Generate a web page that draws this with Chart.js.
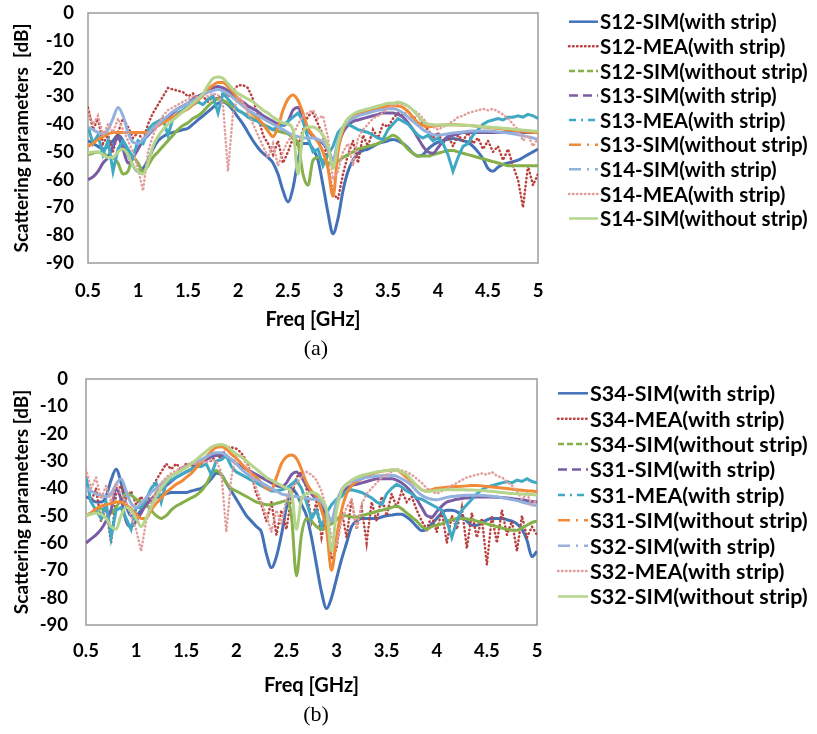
<!DOCTYPE html>
<html>
<head>
<meta charset="utf-8">
<script src="https://cdn.jsdelivr.net/npm/chart.js@4.4.1/dist/chart.umd.min.js"></script>
<style>
  html, body { margin: 0; padding: 0; background: #fff; }
  #page { position: relative; width: 817px; height: 734px; overflow: hidden; }
  .panel { position: absolute; left: 0; width: 817px; }
  .caption { position: absolute; width: 60px; text-align: center; font-family: "Liberation Serif", "DejaVu Serif", serif; font-size: 22px; line-height: 25px; color: #000; }
</style>
</head>
<body>
<div id="page">
  <div class="panel" style="top:0;height:340px"><canvas id="chartA"></canvas></div>
  <div class="caption" style="left:286px;top:335px">(a)</div>
  <div class="panel" style="top:366px;height:336px"><canvas id="chartB"></canvas></div>
  <div class="caption" style="left:286px;top:701px">(b)</div>
</div>
<script>
// frequency grid, GHz
const freq = [
  0.5, 0.55, 0.6, 0.65, 0.7, 0.75, 0.8, 0.85, 0.9, 0.95,
  1.0, 1.05, 1.1, 1.15, 1.2, 1.25, 1.3, 1.35, 1.4, 1.45,
  1.5, 1.55, 1.6, 1.65, 1.7, 1.75, 1.8, 1.85, 1.9, 1.95,
  2.0, 2.05, 2.1, 2.15, 2.2, 2.25, 2.3, 2.35, 2.4, 2.45,
  2.5, 2.55, 2.6, 2.65, 2.7, 2.75, 2.8, 2.85, 2.9, 2.95,
  3.0, 3.05, 3.1, 3.15, 3.2, 3.25, 3.3, 3.35, 3.4, 3.45,
  3.5, 3.55, 3.6, 3.65, 3.7, 3.75, 3.8, 3.85, 3.9, 3.95,
  4.0, 4.05, 4.1, 4.15, 4.2, 4.25, 4.3, 4.35, 4.4, 4.45,
  4.5, 4.55, 4.6, 4.65, 4.7, 4.75, 4.8, 4.85, 4.9, 4.95,
  5.0
];

const namesA = [
  'S12-SIM(with strip)', 'S12-MEA(with strip)', 'S12-SIM(without strip)',
  'S13-SIM(with strip)', 'S13-MEA(with strip)', 'S13-SIM(without strip)',
  'S14-SIM(with strip)', 'S14-MEA(with strip)', 'S14-SIM(without strip)'
];
const namesB = [
  'S34-SIM(with strip)', 'S34-MEA(with strip)', 'S34-SIM(without strip)',
  'S31-SIM(with strip)', 'S31-MEA(with strip)', 'S31-SIM(without strip)',
  'S32-SIM(with strip)', 'S32-MEA(with strip)', 'S32-SIM(without strip)'
];

// ---- panel (a), dB ----
const s12Sim = [
  -46, -47, -48, -49, -48, -46, -44, -46, -51, -55,
  -57, -56, -53, -49, -46, -44.5, -43.5, -43, -42.5, -42,
  -41.5, -40, -38.5, -37, -35.5, -34, -32.5, -32, -33, -35,
  -37.5, -40, -43, -46, -48.5, -50.5, -52, -54, -58, -64,
  -68, -63, -53, -47, -47, -49, -53, -62, -72, -79.5,
  -74, -64, -57, -53, -50.5, -49.5, -49, -48, -47, -46.5,
  -46, -45.5, -46, -47, -48.5, -50.5, -51.5, -51, -49, -47.5,
  -46.5, -46, -45.5, -45.2, -45.5, -46, -46.5, -48, -50, -52.5,
  -56, -57, -55.5, -54.5, -54, -53.5, -53, -52, -51, -50,
  -49
];
const s12Mea = [
  -34, -42, -38, -47, -44, -50, -43, -38, -41, -45,
  -43, -46, -40, -36, -33, -30, -27, -27.5, -28, -28.5,
  -30, -29, -31, -30, -32, -30, -31, -29, -30, -28,
  -26, -26, -27, -31, -37, -44, -47, -51, -46, -54,
  -50, -45, -48, -42, -37, -36, -40, -44, -55, -65,
  -67, -58, -51, -46, -54, -44, -48, -42, -45, -40,
  -41, -38, -36, -37, -35, -38, -37, -40, -42, -45,
  -43, -47, -44, -48, -44, -46, -43, -47, -45, -49,
  -46, -50, -48, -53, -49, -55, -60, -70, -55, -62,
  -58
];
const s12SimNo = [
  -51, -50.5, -50, -50.5, -51.5, -52, -54, -58, -57, -52,
  -54, -57, -55, -52, -50, -48, -46, -44, -42, -40.5,
  -39.5, -38, -37, -35.5, -33.5, -32, -31, -31.5, -32.5, -34,
  -35, -36, -37, -38, -39, -40, -41, -42, -42.5, -43,
  -43.5, -45, -47, -58, -62, -53, -52, -53, -54, -54.5,
  -53.5, -52, -51, -50, -49, -48.5, -48, -47.5, -47, -46,
  -45, -44, -45, -47, -49, -50.5, -51.5, -51.5, -51.5, -51,
  -50.5, -50, -49.5, -49.5, -50, -50.5, -51, -51.5, -52, -52.5,
  -53, -53.5, -54, -54.5, -55, -55, -55, -55, -55, -55,
  -55
];
const s13Sim = [
  -60, -59, -57, -54, -52, -48, -45, -49, -54, -52,
  -49, -46, -44, -42, -40.5, -39, -37.5, -36, -34.5, -33.5,
  -32.5, -31, -30, -29, -28, -27, -26.5, -27, -28, -29.5,
  -31, -32, -33.5, -34.5, -35.5, -37, -38, -39, -40, -40.5,
  -39, -35, -34, -38, -42, -44.5, -46, -47, -49, -53,
  -48, -43, -40.5, -39, -38.5, -38, -37.5, -37, -36.5, -36,
  -36, -36, -36.5, -37.5, -39.5, -42, -45, -48, -50, -50.5,
  -48.5, -46, -44.5, -44, -43.5, -43, -43, -43, -43, -43,
  -43, -43, -43, -43, -42.5, -42.5, -42.5, -43, -43, -43,
  -43
];
const s13Mea = [
  -41, -47, -44, -51, -46, -57, -49, -46, -49, -52,
  -46, -47, -42, -40, -39, -38, -44, -38, -36, -35,
  -33.5, -33, -32, -33, -31, -30, -36, -29, -31, -33,
  -35, -36, -37.5, -38.5, -39, -40.5, -41, -42, -41, -40.5,
  -39, -37.5, -36, -39, -45, -50, -49, -55, -51, -48,
  -43, -41, -40, -41, -42, -42.5, -43, -44, -45, -45.5,
  -42, -40, -38, -39, -40, -42, -44, -45, -44, -46,
  -45, -47, -51, -57, -52, -48, -47, -44, -42, -40,
  -39, -38.5, -38, -38.5, -37.5, -37.5, -37, -37.5, -36.5, -37,
  -38
];
const s13SimNo = [
  -48, -47, -45.5, -44.5, -43.5, -43, -43, -43, -43, -43,
  -43, -43, -43, -41.5, -40.5, -39.5, -38.5, -37.5, -36.5, -35.5,
  -34.5, -33, -31.5, -29.5, -27.5, -26, -25, -25, -26.5, -28.5,
  -31, -33, -35, -36.5, -38, -40, -42.5, -44.5, -41, -35,
  -31, -29.5, -31.5, -36, -41.5, -44, -46.5, -50, -56, -66,
  -50, -42, -39, -37.5, -36.5, -36, -35.5, -35, -34.5, -34,
  -33.5, -33.5, -33.5, -34, -35.5, -37.5, -39.5, -40.5, -41, -40.8,
  -40.5, -40.3, -40.2, -40.2, -40.3, -40.4, -40.5, -40.6, -40.8, -41,
  -41.2, -41.4, -41.6, -41.8, -42, -42.2, -42.4, -42.6, -42.8, -43,
  -43
];
const s14Sim = [
  -41, -42, -43, -43.5, -42, -38, -34, -37, -43, -46.5,
  -47, -45.5, -43.5, -41.5, -40, -38.5, -37, -35.5, -34.5, -33.5,
  -32.5, -31.5, -30.5, -29.5, -28.5, -28, -27.5, -28, -29, -30.5,
  -32, -33.5, -35, -36, -37, -38, -39, -40, -41, -42,
  -43, -44, -44.5, -45, -45, -45, -45.5, -46.5, -49, -53,
  -46, -41, -39, -38, -37, -36.5, -36, -35.5, -35, -34.8,
  -34.5, -34.5, -35, -36, -37.5, -39, -40.5, -42, -43, -43.8,
  -44, -43.8, -43.5, -43.2, -43, -42.8, -42.6, -42.5, -42.5, -42.5,
  -42.5, -42.6, -42.8, -43, -43.2, -43.5, -43.8, -44.2, -44.6, -45,
  -45.5
];
const s14Mea = [
  -35, -40, -37, -44, -40, -43, -38, -42, -46, -50,
  -56, -64, -50, -44, -40, -37, -35, -34, -33, -32,
  -31, -30, -30.5, -29.5, -30, -29, -29.5, -33, -57, -36,
  -30, -32, -36, -40, -44, -48, -52, -47, -55, -50,
  -46, -44, -40, -37, -36, -35, -38, -37, -45, -60,
  -57, -50, -47, -55, -45, -42, -40, -38, -37, -36,
  -34, -33.5, -32.5, -33, -33.5, -35, -36, -38, -40, -41,
  -42, -41, -40, -39, -37.5, -37, -36, -35.5, -35, -34.5,
  -35, -34.5, -35.5, -36.5, -38, -40, -42, -46, -44, -48,
  -45
];
const s14SimNo = [
  -50.5, -50, -50, -51, -52, -52, -50, -49, -51, -55,
  -57, -58, -54, -48, -44.5, -42, -40, -38.5, -37, -35.5,
  -34, -32.5, -31, -29, -26, -23.5, -23, -23.5, -25.5, -27.5,
  -29, -30, -31, -32, -33.5, -35, -36, -37.5, -38.5, -39.5,
  -40, -42, -58, -43, -41, -41, -42, -44, -48, -56,
  -47, -41, -38, -36.5, -35.5, -35, -34.5, -34, -33.5, -33,
  -32.5, -32.5, -32, -32.5, -33.5, -35, -37, -39, -40, -40.2,
  -40.3, -40.3, -40.3, -40.3, -40.3, -40.4, -40.5, -40.6, -40.8, -41,
  -41, -41.2, -41.3, -41.5, -41.6, -41.8, -42, -42.2, -42.3, -42.5,
  -42.6
];

// ---- panel (b), dB ----
const s34Sim = [
  -43, -44, -45, -45, -43, -37, -33, -38, -46, -50,
  -50, -48, -46, -44.5, -43.5, -42.5, -42, -41.5, -41.5, -41.5,
  -41.5, -41, -40.5, -40, -38.5, -36.5, -34.5, -35, -38, -41,
  -44, -47, -50, -52, -54, -56, -64, -69, -65, -57,
  -47, -40, -42, -46, -50, -58, -68, -78, -84, -80,
  -73, -66, -60, -54, -52, -51, -51, -51, -51, -50.5,
  -50, -49.8, -49.5, -49.5, -50.5, -52, -54, -55.5, -55, -53,
  -51, -49, -48, -48, -48.5, -50, -52, -53.5, -53.5, -52.5,
  -51.5, -51, -51, -51, -51.5, -52, -53, -55, -59, -65,
  -63
];
const s34Mea = [
  -36, -45, -40, -52, -47, -60, -42, -39, -44, -41,
  -46, -43, -47, -40, -37, -34, -31, -33, -31, -33,
  -31, -32, -30, -31, -29, -30, -28, -29, -25, -25,
  -25.5, -27, -30, -35, -42, -46, -52, -45, -57, -48,
  -55, -43, -36, -34, -40, -52, -45, -58, -50, -66,
  -62, -48, -58, -44, -55, -47, -60, -45, -52, -43,
  -50, -42, -47, -41, -45, -43, -48, -52, -55, -50,
  -56, -48, -60, -50, -55, -47, -62, -49, -58, -51,
  -68, -50, -60, -48, -57, -52, -63, -50, -58, -54,
  -57
];
const s34SimNo = [
  -50, -49, -48, -47.5, -48, -49, -47, -44, -42, -42.5,
  -44, -45, -46, -48, -50, -51, -50, -48, -46.5, -45.5,
  -44.5, -43.5, -42.5, -41, -38.5, -35, -33.5, -35, -38, -40,
  -41, -42, -43, -44, -45, -45.5, -46, -46, -45.5, -45,
  -44.5, -50, -72, -57, -51, -52, -54, -55, -54, -53,
  -51.5, -50, -50, -50.5, -50.5, -50, -49.5, -49, -48.5, -48,
  -47.5, -47, -46.5, -47.5, -49, -50.5, -52, -54, -55, -54,
  -53.5, -53, -52, -51.5, -51, -51, -51.2, -51.5, -52, -52.5,
  -53, -53.5, -54, -54.5, -55, -55.3, -55.3, -54.5, -53.5, -52.5,
  -52
];
const s31Sim = [
  -60, -58.5, -57, -55, -52, -48, -40, -44, -52, -54,
  -52, -49, -46, -44, -42, -40.5, -39, -37.5, -36, -35,
  -34, -33, -31.5, -30.5, -29.5, -28.5, -28, -28, -28.5, -29.5,
  -31, -32, -33, -34, -35, -36, -37, -38, -39, -39.5,
  -38, -35, -34, -36, -39, -42, -44, -46.5, -50, -52,
  -46, -42, -40, -39, -38.5, -38, -37.5, -37, -36.5, -36.5,
  -36.5, -36.5, -37, -38, -39.5, -41.5, -44, -47, -50, -50.5,
  -48.5, -46.5, -45, -44.5, -44, -43.7, -43.5, -43.3, -43.2, -43.2,
  -43.2, -43.2, -43.3, -43.4, -43.5, -43.7, -44, -44.2, -44.5, -44.8,
  -45
];
const s31Mea = [
  -36, -45, -48, -51, -45, -58, -48, -47, -51, -55,
  -47, -47, -44, -40, -38, -45, -38, -37, -36, -35,
  -34, -33, -32, -32, -31, -35, -30, -29.5, -28, -32,
  -34, -35, -36, -37, -38, -39, -40, -41, -41, -40.5,
  -40, -38.5, -37, -40, -45, -51, -48, -54, -49, -46,
  -44, -43, -41, -40.5, -41, -41.5, -42.5, -43.5, -45, -46,
  -42, -40, -38.5, -39.5, -41, -42, -43.5, -44, -45, -46,
  -47, -48, -52, -58, -52, -48, -46, -44, -42, -40.5,
  -39.5, -39, -38.5, -38, -37.5, -38, -37, -37.5, -36.5, -37.5,
  -38
];
const s31SimNo = [
  -50, -49, -47.5, -46.5, -46, -45.5, -45, -45, -46, -47.5,
  -49.5, -51, -51, -48, -45.5, -43.5, -41.5, -40, -38.5, -37.5,
  -36, -34.5, -32.5, -30.5, -28.5, -26.5, -25, -24.8, -25.5, -27.5,
  -29, -31, -33, -34.5, -36, -38, -40, -40.5, -36, -31,
  -28.5, -27.8, -29, -33, -38, -41, -43, -48, -55, -70,
  -58, -48, -42, -39, -37.5, -36.5, -35.5, -34.8, -34.2, -33.8,
  -33.5, -33.3, -33.3, -34.5, -36, -37.5, -39, -40.5, -41, -40.5,
  -40, -39.8, -39.6, -39.4, -39.3, -39.2, -39.1, -39, -39, -39.1,
  -39.3, -39.5, -39.7, -39.9, -40.1, -40.3, -40.5, -40.7, -40.9, -41,
  -41.2
];
const s32Sim = [
  -40, -41, -42, -42.5, -43, -42, -38.5, -36.5, -41, -45.5,
  -47, -45.5, -43.5, -41.5, -40, -38.5, -37, -35.5, -34.5, -33,
  -32, -31, -30.5, -29.5, -28.5, -27.5, -27, -27, -28, -29.5,
  -31, -33, -34.5, -36, -37, -38, -39, -40, -41, -42,
  -42.5, -43, -43, -43.5, -43.5, -44, -44, -45, -48, -52,
  -45, -40.5, -38.5, -37.5, -37, -36.5, -36, -35.8, -35.5, -35.3,
  -35.2, -35.3, -35.6, -36.5, -37.5, -39, -41, -42.5, -43.5, -44,
  -44.2, -43.8, -43.3, -43, -42.8, -42.6, -42.5, -42.5, -42.5, -42.6,
  -42.7, -42.9, -43.1, -43.4, -43.7, -44.1, -44.5, -45, -45.5, -46,
  -46.3
];
const s32Mea = [
  -33, -40, -36, -44, -39, -45, -38, -42, -45, -50,
  -55, -63, -52, -45, -41, -38, -36, -34.5, -33.5, -32.5,
  -31.5, -30.5, -31, -30, -30.5, -29.5, -30, -34, -56, -36,
  -28, -28, -31, -35, -40, -45, -50, -56, -48, -53,
  -44, -40, -38, -36, -34, -35, -37, -41, -48, -58,
  -61, -52, -47, -44, -55, -46, -42, -40, -38, -36,
  -35, -34, -33, -33.5, -34, -35, -36.5, -38, -40, -41,
  -42, -41, -40, -39, -38, -37, -36, -35.5, -35, -34.5,
  -35, -34, -35.5, -36, -37.5, -39, -41, -44, -42, -46,
  -44
];
const s32SimNo = [
  -50, -49.5, -49, -49.5, -51, -54, -55, -50, -47, -48,
  -51, -54, -51, -47, -43, -40, -37.5, -35.5, -34.5, -33.5,
  -32.5, -31, -29.5, -28, -26.5, -25, -24.2, -24, -24.5, -26,
  -27.5, -28.5, -30, -31.5, -33, -34.5, -36, -37, -38, -39,
  -40, -41.5, -55, -44, -42, -41.5, -42, -44, -48, -63,
  -48, -41, -38.5, -37, -36, -35.3, -34.8, -34.4, -34, -33.7,
  -33.5, -33.3, -33.3, -34, -35, -37, -39, -40.5, -41.2, -41,
  -40.7, -40.6, -40.5, -40.5, -40.5, -40.5, -40.6, -40.6, -40.7, -40.8,
  -41, -41.1, -41.3, -41.5, -41.7, -41.9, -42, -42.1, -42.2, -42.3,
  -42.4
];

// line styling, same order as the series
const colors = ['#4472b8', '#b8403d', '#86b04a', '#7a5ca5', '#3fa9c4', '#f08a36', '#93b1dc', '#e29e9c', '#b5d48c'];
const measured = [false, true, false, false, true, false, false, true, false];
const dotted = [false, true, false, false, false, false, false, true, false];
const legendDash = [[], [0.5, 3.5], [6, 3], [9, 5], [7, 5, 2, 5], [12, 6, 2, 6], [12, 6, 2, 6], [0.5, 3.5], []];

const boldFont = (size, extra) => Object.assign({ family: 'Lato', weight: 'bold', size }, extra || {});

// grey box round the plot area
const plotFrame = {
  id: 'plotFrame',
  beforeDatasetsDraw(chart) {
    const { ctx, chartArea: a } = chart;
    ctx.save();
    ctx.strokeStyle = '#9c9c9c';
    ctx.lineWidth = 1.5;
    ctx.strokeRect(a.left, a.top, a.right - a.left, a.bottom - a.top);
    ctx.restore();
  }
};

// legend column to the right of the plot, one row per dataset
const sideLegend = {
  id: 'sideLegend',
  afterDraw(chart, args, opts) {
    const { ctx } = chart;
    ctx.save();
    ctx.font = `bold ${opts.size}px Lato`;
    ctx.textBaseline = 'middle';
    ctx.textAlign = 'left';
    ctx.fillStyle = '#000';
    chart.data.datasets.forEach((ds, i) => {
      const y = opts.top + i * opts.step;
      ctx.beginPath();
      ctx.setLineDash(legendDash[i]);
      ctx.lineCap = dotted[i] ? 'round' : 'butt';
      ctx.lineWidth = 2.5;
      ctx.strokeStyle = ds.borderColor;
      ctx.moveTo(opts.x, y);
      ctx.lineTo(opts.x + opts.len, y);
      ctx.stroke();
      ctx.fillText(ds.label, opts.x + opts.len + opts.textGap, y + 1);
    });
    ctx.restore();
  }
};

function buildChart(id, names, series, cfg) {
  const datasets = series.map((vals, i) => ({
    label: names[i],
    data: freq.map((f, j) => ({ x: f, y: vals[j] })),
    borderColor: colors[i],
    backgroundColor: colors[i],
    borderWidth: dotted[i] ? 2.5 : 3,
    borderDash: dotted[i] ? [0.5, 3.5] : [],
    borderCapStyle: dotted[i] ? 'round' : 'butt',
    pointRadius: 0,
    tension: measured[i] ? 0 : 0.4,
    cubicInterpolationMode: measured[i] ? 'default' : 'monotone',
    order: names.length - i
  }));

  return new Chart(document.getElementById(id), {
    type: 'line',
    data: { datasets },
    plugins: [plotFrame, sideLegend],
    options: {
      responsive: true,
      maintainAspectRatio: false,
      animation: false,
      layout: { padding: { top: 0, right: cfg.padRight, left: 0, bottom: 0 } },
      plugins: {
        tooltip: { enabled: false },
        legend: { display: false },
        sideLegend: cfg.legend
      },
      scales: {
        x: {
          type: 'linear',
          position: 'bottom',
          min: 0.5,
          max: 5,
          ticks: { stepSize: 0.5, color: '#000', padding: cfg.xTickPad, maxRotation: 0, autoSkip: false, font: boldFont(18.5), callback: v => String(v) },
          grid: { display: false, drawTicks: false },
          border: { display: false },
          title: { display: true, text: 'Freq [GHz]', color: '#000', font: boldFont(20), padding: { top: 0, bottom: cfg.xTitlePad } },
          afterFit: s => { s.height = 77; }
        },
        y: {
          type: 'linear',
          position: 'left',
          min: -90,
          max: 0,
          ticks: { stepSize: 10, color: '#000', padding: cfg.yTickPad, autoSkip: false, font: boldFont(18.5) },
          grid: { display: false, drawTicks: false },
          border: { display: false },
          title: { display: true, text: cfg.yTitle, color: '#000', font: boldFont(19), padding: { top: 10.5, bottom: 0 } },
          afterFit: s => {
            s.width = cfg.yWidth;
            // plot top sits 13px below the canvas edge
            s.paddingTop = 13;
            s.paddingBottom = 0;
          }
        }
      }
    }
  });
}

buildChart('chartA', namesA,
  [s12Sim, s12Mea, s12SimNo, s13Sim, s13Mea, s13SimNo, s14Sim, s14Mea, s14SimNo],
  { padRight: 279, yWidth: 88, yTickPad: 14, xTickPad: 17, xTitlePad: 8,
    yTitle: 'Scattering parameters  [dB]',
    legend: { x: 569, len: 29, textGap: 2, top: 21.7, step: 24.6, size: 20.5 } });

buildChart('chartB', namesB,
  [s34Sim, s34Mea, s34SimNo, s31Sim, s31Mea, s31SimNo, s32Sim, s32Mea, s32SimNo],
  { padRight: 280, yWidth: 86, yTickPad: 18, xTickPad: 15, xTitlePad: 4,
    yTitle: 'Scattering parameters [dB]',
    legend: { x: 558, len: 30, textGap: 2, top: 27.3, step: 25.4, size: 21.5 } });
</script>
</body>
</html>
